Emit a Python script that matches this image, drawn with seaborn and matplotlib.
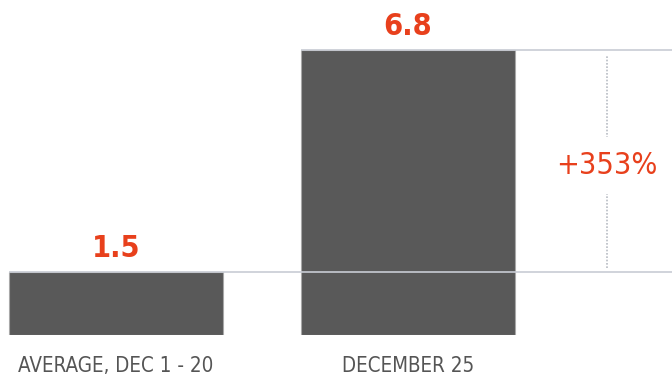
import seaborn as sns
import matplotlib.pyplot as plt

categories = ['AVERAGE, DEC 1 - 20', 'DECEMBER 25']
values = [1.5, 6.8]

BAR = '#595959'
RED = '#e8401c'
LINE = '#c8ccd4'

sns.set_style('white')
plt.rcParams['font.family'] = ['DejaVu Sans']
plt.rcParams['font.stretch'] = 'condensed'

fig = plt.figure(figsize=(6.72, 3.79), dpi=100)
ax = fig.add_axes([0, 44 / 379, 1, 335 / 379])

w = 0.73
sns.barplot(x=categories, y=values, color=BAR, saturation=1, width=w,
            edgecolor='#a8a8a8', linewidth=0.8, ax=ax, zorder=2)

ax.set_xlim(-0.397, 1.904)
ax.set_ylim(0, 7.995)

# guide lines from each bar top to the right edge, value on top
for i, v in enumerate(values):
    ax.hlines(v, i - w / 2, 1.904, color=LINE, lw=1.2, zorder=3)
    ax.text(i, v + 0.37, f'{v:g}', ha='center', va='baseline', color=RED,
            fontsize=22, fontweight='bold', fontstretch='condensed')

pct = (values[1] - values[0]) / values[0] * 100
xm = 1.68
ax.vlines(xm, values[0] + 0.1, values[1] - 0.12, color='#b8bcc4', lw=1.2,
          linestyles=(0, (1, 1)), zorder=1)
ax.text(xm, (values[0] + values[1]) / 2 - 0.1, f'+{pct:.0f}%', ha='center',
        va='center', color=RED, fontsize=22, fontstretch='condensed',
        bbox=dict(facecolor='white', edgecolor='none', pad=10), zorder=4)

ax.tick_params(axis='x', length=0, pad=15, labelsize=14.8, labelcolor='#555555')
ax.set_yticks([])
sns.despine(ax=ax, left=True, bottom=True)

fig.savefig('out.png', dpi=100)
